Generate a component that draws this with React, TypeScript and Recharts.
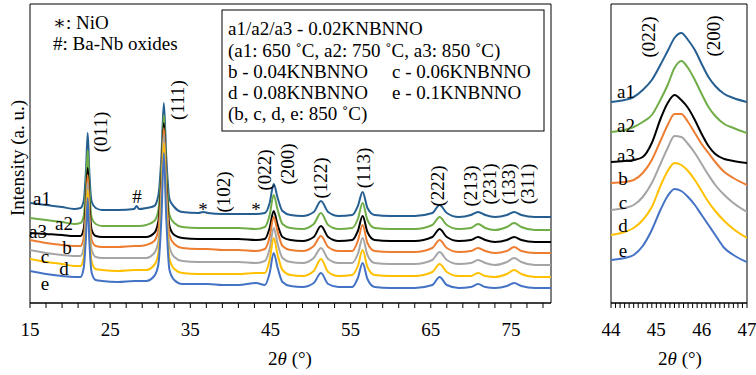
import React from 'react'
import { LineChart, Line, XAxis, YAxis, ReferenceArea } from 'recharts'

// full scan, 2θ sample positions (deg) and offset intensities (a. u.)
const twoTheta = [15, 17, 19, 20.5, 21.3, 21.7, 22.0, 22.2, 22.4, 22.7, 23.2, 24, 26, 28, 28.3, 28.6, 29.5, 30.5, 31.0, 31.4, 31.7, 32.0, 32.4, 33.0, 34, 36, 36.6, 37.2, 39, 41, 43.2, 44.3, 44.9, 45.4, 45.9, 46.5, 47.5, 49, 50.4, 51.3, 52.2, 53.5, 55.2, 55.9, 56.5, 57.1, 58, 60, 63, 65.2, 66.1, 67, 68.5, 70.0, 70.9, 71.8, 73, 74.5, 75.4, 76.3, 78, 80]
const a1 = [100, 98, 96, 94, 95, 102, 135, 170, 131, 101, 95, 93, 93, 94, 97, 94, 95, 97, 107, 147, 200, 146, 104, 96, 91, 90, 91, 90, 89, 89, 89, 90, 100, 119, 105, 92, 88, 87, 91, 102, 91, 87, 88, 97, 111, 95, 88, 87, 87, 90, 98, 90, 86, 88, 91, 88, 86, 88, 91, 88, 86, 86]
const a2 = [85, 83, 81, 79, 80, 87, 119, 153, 115, 85, 79, 77, 77, 77, 77, 77, 78, 82, 92, 134, 188, 132, 88, 80, 76, 75, 75, 75, 75, 75, 74, 76, 88, 108, 93, 79, 75, 74, 79, 90, 78, 74, 75, 84, 100, 83, 75, 74, 74, 78, 86, 78, 74, 75, 79, 75, 73, 76, 80, 76, 73, 73]
const a3 = [70, 69, 68, 67, 67, 74, 104, 135, 101, 73, 67, 66, 66, 66, 66, 66, 66, 70, 81, 124, 180, 122, 77, 68, 65, 64, 64, 64, 64, 64, 63, 64, 75, 92, 78, 66, 63, 62, 66, 77, 66, 62, 63, 72, 87, 71, 63, 62, 62, 66, 74, 66, 62, 63, 66, 63, 61, 63, 66, 63, 61, 61]
const b = [63, 60, 58, 57, 57, 65, 96, 128, 92, 63, 57, 56, 56, 57, 57, 57, 58, 62, 73, 117, 175, 116, 68, 59, 55, 54, 54, 54, 53, 53, 52, 54, 66, 86, 71, 57, 53, 52, 57, 67, 56, 52, 52, 62, 78, 60, 52, 51, 51, 55, 63, 55, 51, 52, 55, 52, 50, 52, 56, 52, 50, 50]
const c = [53, 50, 48, 47, 47, 55, 87, 120, 82, 53, 46, 45, 45, 45, 45, 45, 45, 50, 61, 107, 168, 105, 56, 46, 42, 41, 41, 41, 41, 41, 40, 42, 54, 75, 59, 45, 41, 40, 45, 55, 44, 40, 40, 49, 65, 48, 40, 39, 39, 43, 51, 43, 39, 40, 43, 40, 38, 41, 45, 41, 38, 38]
const d = [44, 41, 39, 37, 37, 45, 78, 113, 73, 41, 34, 33, 32, 33, 33, 33, 33, 38, 49, 97, 160, 96, 44, 34, 30, 29, 29, 29, 29, 29, 30, 30, 43, 65, 48, 33, 28, 27, 32, 44, 31, 27, 28, 37, 53, 36, 28, 27, 27, 31, 39, 31, 27, 27, 30, 27, 26, 29, 33, 29, 26, 26]
const e = [32, 29, 27, 26, 26, 35, 69, 105, 63, 30, 23, 22, 21, 22, 22, 22, 22, 27, 38, 86, 150, 85, 33, 23, 19, 19, 19, 19, 18, 18, 20, 18, 30, 50, 35, 21, 17, 16, 20, 30, 19, 16, 16, 25, 40, 24, 16, 15, 15, 18, 26, 18, 15, 16, 19, 16, 15, 17, 20, 17, 15, 15]

// close-up of the (022)/(200) doublet
const zoomTheta = [44, 44.3, 44.5, 44.7, 44.9, 45.1, 45.25, 45.4, 45.55, 45.7, 45.85, 46.0, 46.15, 46.3, 46.5, 46.7, 47]
const a1Zoom = [201, 203, 206, 213, 223, 239, 252, 265, 270, 263, 253, 239, 226, 217, 209, 205, 201]
const a2Zoom = [171, 173, 176, 181, 188, 204, 218, 235, 242, 235, 223, 209, 196, 187, 179, 175, 170]
const a3Zoom = [141, 142, 143, 146, 160, 185, 200, 208, 203, 195, 183, 169, 157, 149, 144, 142, 140]
const bZoom = [120, 121, 123, 130, 143, 163, 178, 189, 189, 181, 170, 159, 150, 141, 131, 125, 118]
const cZoom = [93, 95, 98, 106, 120, 140, 155, 167, 166, 159, 150, 139, 128, 118, 108, 100, 91]
const dZoom = [68, 71, 75, 83, 96, 118, 132, 140, 138, 132, 123, 112, 101, 92, 82, 74, 65]
const eZoom = [43, 45, 48, 57, 73, 94, 107, 114, 112, 106, 98, 88, 78, 68, 55, 48, 41]

const mainTicks = [15, 17, 19, 21, 23, 25, 27, 29, 31, 33, 35, 37, 39, 41, 43, 45, 47, 49, 51, 53, 55, 57, 59, 61, 63, 65, 67, 69, 71, 73, 75, 77, 79]
const mainTickLabels = [15, 25, 35, 45, 55, 65, 75]
const zoomTicks = [44, 44.1, 44.2, 44.3, 44.4, 44.5, 44.6, 44.7, 44.8, 44.9, 45, 45.1, 45.2, 45.3, 45.4, 45.5, 45.6, 45.7, 45.8, 45.9, 46, 46.1, 46.2, 46.3, 46.4, 46.5, 46.6, 46.7, 46.8, 46.9, 47]
const zoomTickLabels = [44, 45, 46, 47]

const seriesKeys = ['a1', 'a2', 'a3', 'b', 'c', 'd', 'e']
const seriesColors: Record<string, string> = {
  a1: '#255E91',
  a2: '#70AD47',
  a3: '#000000',
  b: '#ED7D31',
  c: '#A5A5A5',
  d: '#FFC000',
  e: '#4472C4',
}

const mainRows = twoTheta.map((x, i) => ({ x, a1: a1[i], a2: a2[i], a3: a3[i], b: b[i], c: c[i], d: d[i], e: e[i] }))
const zoomRows = zoomTheta.map((x, i) => ({
  x, a1: a1Zoom[i], a2: a2Zoom[i], a3: a3Zoom[i], b: bZoom[i], c: cZoom[i], d: dZoom[i], e: eZoom[i],
}))

const serif = "'Liberation Serif', 'DejaVu Serif', serif"
const tickStyle = { fill: '#000', fontSize: 19, style: { fontFamily: serif } }

function VText({ x, y, children, size = 19 }: { x: number, y: number, children: React.ReactNode, size?: number }) {
  return (
    <text x={x} y={y} transform={`rotate(-90 ${x} ${y})`} textAnchor="middle" dominantBaseline="central" style={{ fontFamily: serif, fontSize: size }}>
      {children}
    </text>
  )
}

function HText({ x, y, children, anchor = 'middle', size = 19 }: { x: number, y: number, children: React.ReactNode, anchor?: string, size?: number }) {
  return (
    <text x={x} y={y} textAnchor={anchor as any} dominantBaseline="central" style={{ fontFamily: serif, fontSize: size }}>
      {children}
    </text>
  )
}

function Panel({ rows, domain, ticks, labels, width, left }: { rows: any[], domain: [number, number], ticks: number[], labels: number[], width: number, left: number }) {
  return (
    <LineChart width={width} height={375} data={rows} margin={{ top: 4, right: 9, bottom: 0, left }} style={{ fontFamily: serif }}>
      <XAxis
        type="number"
        dataKey="x"
        domain={domain}
        ticks={ticks}
        interval={0}
        tickFormatter={(v: number) => (labels.includes(v) ? String(v) : '')}
        tick={tickStyle}
        tickSize={5}
        tickMargin={15}
        height={72}
        axisLine={{ stroke: '#000' }}
        tickLine={{ stroke: '#000' }}
        allowDataOverflow
      />
      <YAxis hide domain={[0, 299]} />
      <ReferenceArea x1={domain[0]} x2={domain[1]} y1={0} y2={299} fill="none" stroke="#000" strokeWidth={1} />
      {seriesKeys.map((k) => (
        <Line key={k} type="monotone" dataKey={k} stroke={seriesColors[k]} strokeWidth={2} dot={false} isAnimationActive={false} />
      ))}
    </LineChart>
  )
}

export default function App() {
  return (
    <div style={{ position: 'absolute', left: 0, top: 0, width: 756, height: 375, background: '#fff', overflow: 'hidden', fontFamily: serif }}>
      <div style={{ position: 'absolute', left: 0, top: 0 }}>
        <Panel rows={mainRows} domain={[15, 80]} ticks={mainTicks} labels={mainTickLabels} width={560} left={30} />
      </div>
      <div style={{ position: 'absolute', left: 560, top: 0 }}>
        <Panel rows={zoomRows} domain={[44, 47]} ticks={zoomTicks} labels={zoomTickLabels} width={196} left={51} />
      </div>
      <svg width={756} height={375} style={{ position: 'absolute', left: 0, top: 0, pointerEvents: 'none' }}>
        {/* phase notes */}
        <HText x={53} y={22} anchor="start">∗: NiO</HText>
        <HText x={53} y={43} anchor="start">#: Ba-Nb oxides</HText>

        {/* sample legend box */}
        <rect x={222} y={10} width={322} height={121} fill="#fff" stroke="#000" strokeWidth={1} />
        <HText x={228} y={28} anchor="start">a1/a2/a3 - 0.02KNBNNO</HText>
        <HText x={228} y={50} anchor="start">(a1: 650 ˚C, a2: 750 ˚C, a3: 850 ˚C)</HText>
        <HText x={228} y={71} anchor="start">b - 0.04KNBNNO</HText>
        <HText x={392} y={71} anchor="start">c - 0.06KNBNNO</HText>
        <HText x={228} y={92} anchor="start">d - 0.08KNBNNO</HText>
        <HText x={392} y={92} anchor="start">e - 0.1KNBNNO</HText>
        <HText x={228} y={113} anchor="start">(b, c, d, e: 850 ˚C)</HText>

        {/* reflections */}
        <VText x={100} y={132}>(011)</VText>
        <VText x={177} y={100}>(111)</VText>
        <HText x={137} y={196}>#</HText>
        <HText x={203} y={209}>*</HText>
        <HText x={256} y={209}>*</HText>
        <VText x={223} y={192}>(102)</VText>
        <VText x={264} y={170}>(022)</VText>
        <VText x={287} y={164}>(200)</VText>
        <VText x={320} y={178}>(122)</VText>
        <VText x={363} y={168}>(113)</VText>
        <VText x={437} y={186}>(222)</VText>
        <VText x={470} y={186}>(213)</VText>
        <VText x={489} y={184}>(231)</VText>
        <VText x={508} y={184}>(133)</VText>
        <VText x={527} y={184}>(311)</VText>

        {/* curve tags, left */}
        <HText x={42} y={198}>a1</HText>
        <HText x={64} y={223}>a2</HText>
        <HText x={38} y={231}>a3</HText>
        <HText x={67} y={247}>b</HText>
        <HText x={45} y={256}>c</HText>
        <HText x={64} y={268}>d</HText>
        <HText x={45} y={283}>e</HText>

        {/* close-up labels */}
        <VText x={648} y={37}>(022)</VText>
        <VText x={713} y={36}>(200)</VText>
        <HText x={626} y={91}>a1</HText>
        <HText x={626} y={125}>a2</HText>
        <HText x={626} y={155}>a3</HText>
        <HText x={623} y={178}>b</HText>
        <HText x={623} y={202}>c</HText>
        <HText x={623} y={225}>d</HText>
        <HText x={623} y={250}>e</HText>

        {/* axis titles */}
        <VText x={17} y={158}>Intensity (a. u.)</VText>
        <HText x={290} y={358}>2<tspan fontStyle="italic">θ</tspan> (°)</HText>
        <HText x={680} y={358}>2<tspan fontStyle="italic">θ</tspan> (°)</HText>
      </svg>
    </div>
  )
}
